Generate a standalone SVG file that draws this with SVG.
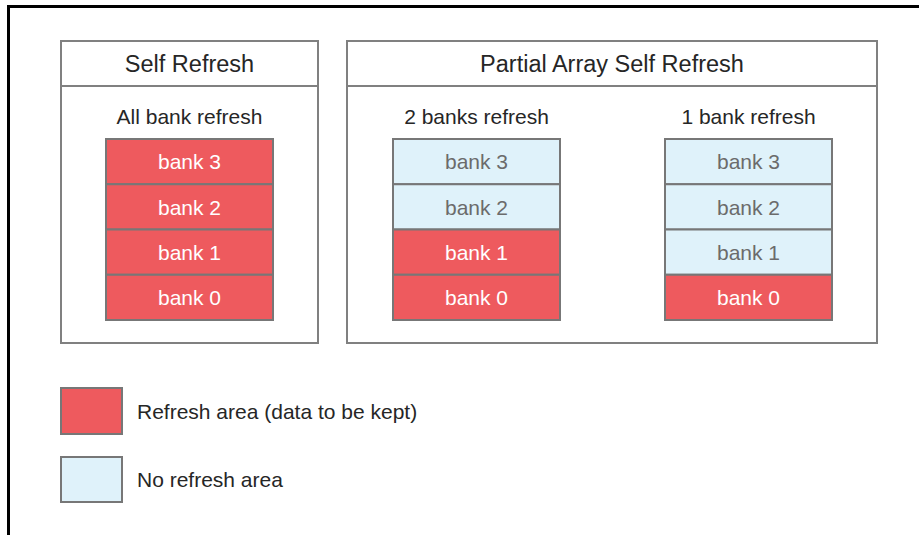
<svg xmlns="http://www.w3.org/2000/svg" width="919" height="535" viewBox="0 0 919 535">
<style>
text{font-family:"Liberation Sans",Arial,sans-serif;text-anchor:middle}
.frame{fill:none;stroke:#000;stroke-width:3}
.box{fill:#fff;stroke:#808080;stroke-width:2}
.title{font-size:23.5px;fill:#262626}
.sub{font-size:21px;fill:#262626}
.on{fill:#ee5a5e;stroke:#777;stroke-width:2}
.off{fill:#dff2fa;stroke:#777;stroke-width:2}
.ton{font-size:21px;fill:#fff}
.toff{font-size:21px;fill:#6b6b6b}
.leg{font-size:21px;fill:#262626;text-anchor:start}
</style>
<rect width="919" height="535" fill="#fff"/>
<path class="frame" d="M8.5,535 V6.5 H919"/>
<g id="self-refresh">
<rect class="box" x="61" y="41" width="257" height="302"/>
<line x1="61" y1="86" x2="318" y2="86" stroke="#808080" stroke-width="2"/>
<text class="title" x="189.5" y="71.5">Self Refresh</text>
<text class="sub" x="189.5" y="124">All bank refresh</text>
<g id="sr-banks">
<rect class="on" x="106" y="139" width="167" height="45.25"/>
<rect class="on" x="106" y="184.25" width="167" height="45.25"/>
<rect class="on" x="106" y="229.5" width="167" height="45.25"/>
<rect class="on" x="106" y="274.75" width="167" height="45.25"/>
<text class="ton" x="189.5" y="169">bank 3</text>
<text class="ton" x="189.5" y="214.5">bank 2</text>
<text class="ton" x="189.5" y="259.5">bank 1</text>
<text class="ton" x="189.5" y="305">bank 0</text>
</g>
</g>
<g id="pasr">
<rect class="box" x="347" y="41" width="530" height="302"/>
<line x1="347" y1="86" x2="877" y2="86" stroke="#808080" stroke-width="2"/>
<text class="title" x="612" y="71.5">Partial Array Self Refresh</text>
<g id="two-banks">
<text class="sub" x="476.5" y="124">2 banks refresh</text>
<rect class="off" x="393" y="139" width="167" height="45.25"/>
<rect class="off" x="393" y="184.25" width="167" height="45.25"/>
<rect class="on" x="393" y="229.5" width="167" height="45.25"/>
<rect class="on" x="393" y="274.75" width="167" height="45.25"/>
<text class="toff" x="476.5" y="169">bank 3</text>
<text class="toff" x="476.5" y="214.5">bank 2</text>
<text class="ton" x="476.5" y="259.5">bank 1</text>
<text class="ton" x="476.5" y="305">bank 0</text>
</g>
<g id="one-bank">
<text class="sub" x="748.5" y="124">1 bank refresh</text>
<rect class="off" x="665" y="139" width="167" height="45.25"/>
<rect class="off" x="665" y="184.25" width="167" height="45.25"/>
<rect class="off" x="665" y="229.5" width="167" height="45.25"/>
<rect class="on" x="665" y="274.75" width="167" height="45.25"/>
<text class="toff" x="748.5" y="169">bank 3</text>
<text class="toff" x="748.5" y="214.5">bank 2</text>
<text class="toff" x="748.5" y="259.5">bank 1</text>
<text class="ton" x="748.5" y="305">bank 0</text>
</g>
</g>
<g id="legend-refresh">
<rect class="on" x="61" y="388" width="61" height="46"/>
<text class="leg" x="137" y="419">Refresh area (data to be kept)</text>
</g>
<g id="legend-norefresh">
<rect class="off" x="61" y="457" width="61" height="45"/>
<text class="leg" x="137" y="487">No refresh area</text>
</g>
<g id="connectors"/>
</svg>
